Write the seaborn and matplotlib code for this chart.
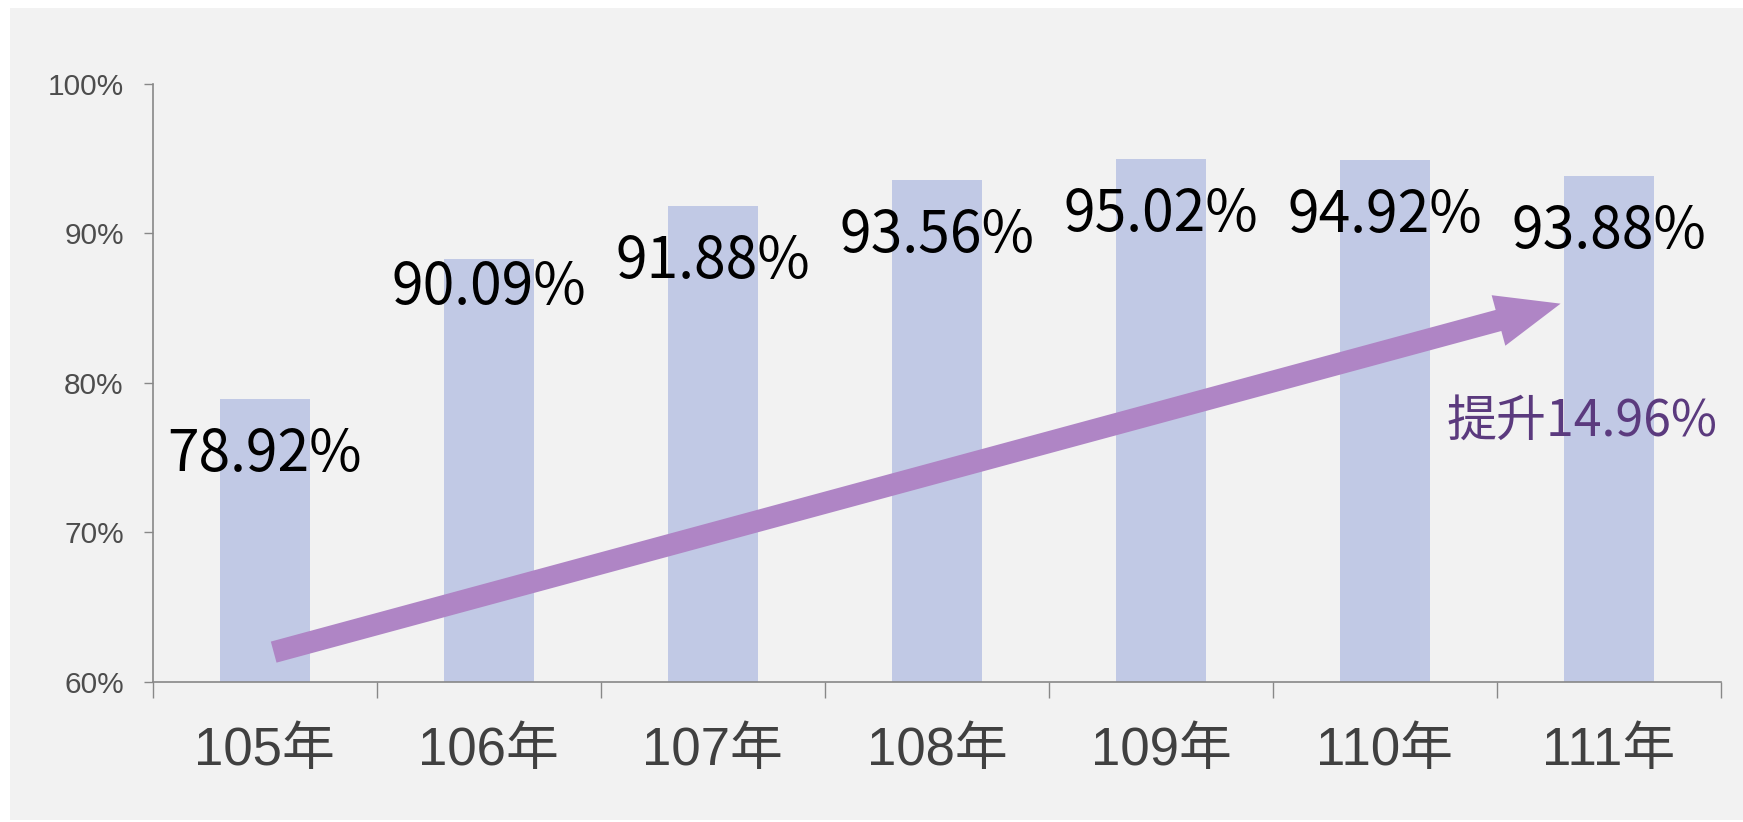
import numpy as np
import pandas as pd
import matplotlib
matplotlib.use("Agg")
import matplotlib.pyplot as plt
from matplotlib.patches import Rectangle
import seaborn as sns

# 資料
years = ["105年", "106年", "107年", "108年", "109年", "110年", "111年"]
bar_values = [78.95, 88.32, 91.85, 93.55, 95.0, 94.9, 93.85]
label_values = [78.92, 90.09, 91.88, 93.56, 95.02, 94.92, 93.88]
y_ticks = [60, 70, 80, 90, 100]
arrow_start = (0.04, 61.98)
arrow_end = (5.784, 85.3)
note_text = "提升14.96%"

df = pd.DataFrame({"year": years, "rate": bar_values})

sns.set_style("white")
plt.rcParams["font.family"] = ["Liberation Sans", "Noto Sans CJK TC", "DejaVu Sans"]

W, H = 1743, 822
fig = plt.figure(figsize=(W / 100, H / 100), dpi=100)
fig.patch.set_facecolor("white")
fig.patches.append(Rectangle((10 / W, 2 / H), 1 - 10 / W, 1 - 10 / H,
                             transform=fig.transFigure, facecolor="#F2F2F2",
                             edgecolor="none", zorder=-5))

ax = fig.add_axes([152.7 / W, (H - 681.7) / H, 1568.3 / W, 597.7 / H])
ax.set_zorder(2)
ax.set_facecolor("#F2F2F2")

sns.barplot(data=df, x="year", y="rate", color="#C1C9E5", width=0.4,
            saturation=1, linewidth=0, ax=ax, zorder=2)

ax.set_ylim(60, 100)
ax.set_xlim(-0.5, len(years) - 0.5)
ax.set_yticks(y_ticks)
ax.set_yticklabels([f"{v}%" for v in y_ticks], fontsize=21.5, color="#4D4D4D")
ax.set_xticks(range(len(years)))
ax.set_xticklabels(years, fontsize=38, color="#404040",
                   family=["Liberation Sans", "Noto Sans CJK TC"])
ax.set_xticks(np.arange(-0.5, len(years)), minor=True)
ax.tick_params(axis="x", which="both", bottom=True)
ax.tick_params(axis="y", which="major", left=True)
ax.tick_params(axis="x", which="major", length=0, pad=32)
ax.tick_params(axis="x", which="minor", length=11.5, width=1, color="#888888", direction="out")
ax.tick_params(axis="y", length=6.8, width=1, color="#888888", direction="out", pad=14)
ax.set_xlabel("")
ax.set_ylabel("")

for s in ["top", "right"]:
    ax.spines[s].set_visible(False)
for s in ["left", "bottom"]:
    ax.spines[s].set_color("#888888")
    ax.spines[s].set_linewidth(1.2)

# 數值標籤
for i, v in enumerate(label_values):
    ax.annotate(f"{v:.2f}%", xy=(i, v), xytext=(0, -52), textcoords="offset points",
                ha="center", va="baseline", fontsize=41, fontweight="medium", color="black",
                family=["Noto Sans CJK TC", "DejaVu Sans"], zorder=4)

# 趨勢箭頭
ax.annotate("", xy=arrow_end, xytext=arrow_start,
            arrowprops=dict(arrowstyle="simple,head_length=2.95,head_width=2.4,tail_width=1.0",
                            mutation_scale=15.7, color="#AF85C5", shrinkA=0, shrinkB=0,
                            linewidth=0),
            zorder=5)

ax.text(5.882, 76.48, note_text, ha="center", va="baseline", fontsize=36,
        fontweight="medium", color="#5B3A7E",
        family=["Noto Sans CJK TC", "DejaVu Sans"], zorder=5)

fig.savefig("out.png", dpi=100, facecolor=fig.get_facecolor())
